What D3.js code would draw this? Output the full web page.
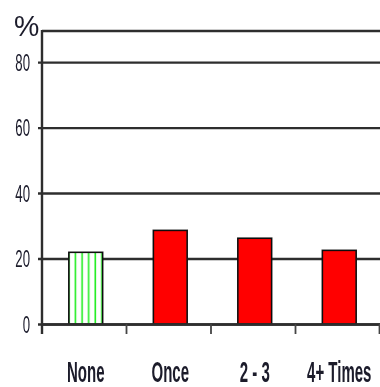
<!DOCTYPE html>
<html>
<head>
<meta charset="utf-8">
<script src="https://cdn.jsdelivr.net/npm/d3@7"></script>
<style>
  html, body { margin: 0; padding: 0; background: #fff; }
  svg { display: block; }
  text { font-family: "Liberation Sans", Arial, sans-serif; fill: #1a1a2a; }
</style>
</head>
<body>
<svg id="chart" width="380" height="387"></svg>
<script>
// Share of respondents (%) by frequency
const categories = ["None", "Once", "2 - 3", "4+ Times"];
const values = [21.9, 28.6, 26.2, 22.5];
const yTicks = [0, 20, 40, 60, 80];
const yMax = 89.5;
const unitLabel = "%";

const W = 380, H = 387;
const plot = { left: 42, right: 380, top: 31, bottom: 324 };

const svg = d3.select("#chart");

const defs = svg.append("defs");
defs.append("filter").attr("id", "soft")
  .attr("x", "-5%").attr("y", "-5%").attr("width", "110%").attr("height", "110%")
  .append("feGaussianBlur").attr("stdDeviation", 0.45);
defs.append("filter").attr("id", "softText")
  .append("feGaussianBlur").attr("stdDeviation", 0.35);
// vertical green stripes for the baseline group
const pat = defs.append("pattern").attr("id", "stripes")
  .attr("patternUnits", "userSpaceOnUse")
  .attr("width", 6.6).attr("height", 10)
  .attr("x", 70.5);
pat.append("rect").attr("width", 6.6).attr("height", 10).attr("fill", "#ffffff");
pat.append("rect").attr("x", 4.2).attr("width", 1.6).attr("height", 10).attr("fill", "#22ee22");

const x = d3.scaleBand().domain(categories).range([plot.left, plot.right]);
const y = d3.scaleLinear().domain([0, yMax]).range([plot.bottom, plot.top]);

const g = svg.append("g").attr("filter", "url(#soft)");

// horizontal grid lines with short ticks left of the axis
const yAxis = d3.axisLeft(y).tickValues(yTicks)
  .tickSize(-(plot.right - plot.left)).tickSizeOuter(0).tickFormat("");
const ya = g.append("g").attr("transform", `translate(${plot.left},0)`).call(yAxis);
ya.select(".domain").remove();
ya.selectAll(".tick line").attr("stroke", "#2e2e2e").attr("stroke-width", 2.4)
  .attr("x1", -4);

// top frame line
g.append("line")
  .attr("x1", plot.left).attr("x2", plot.right)
  .attr("y1", y(yMax)).attr("y2", y(yMax))
  .attr("stroke", "#2e2e2e").attr("stroke-width", 2.4);

// bars
const barW = x.bandwidth() * 0.4;
g.selectAll("rect.bar").data(categories).enter().append("rect")
  .attr("class", "bar")
  .attr("x", (d) => x(d) + (x.bandwidth() - barW) / 2 + 1.5)
  .attr("y", (d, i) => y(values[i]))
  .attr("width", barW)
  .attr("height", (d, i) => y(0) - y(values[i]))
  .attr("fill", (d, i) => i === 0 ? "url(#stripes)" : "#ff0000")
  .attr("stroke", "#111")
  .attr("stroke-width", 1.6);

// vertical axis line
g.append("line")
  .attr("x1", plot.left).attr("x2", plot.left)
  .attr("y1", y(yMax) - 1).attr("y2", plot.bottom + 10)
  .attr("stroke", "#2e2e2e").attr("stroke-width", 2.4);

// category axis: baseline and separators between groups
const xAxis = d3.axisBottom(x).tickSize(0).tickFormat("");
const xa = g.append("g").attr("transform", `translate(0,${plot.bottom})`).call(xAxis);
xa.select(".domain").attr("stroke", "#2e2e2e").attr("stroke-width", 2.4);
xa.selectAll(".tick").remove();
const seps = categories.map((c) => x(c)).slice(1).concat([plot.right - 0.5]);
xa.selectAll("line.sep").data(seps).enter().append("line")
  .attr("class", "sep")
  .attr("x1", (d) => d).attr("x2", (d) => d)
  .attr("y1", 0).attr("y2", 10)
  .attr("stroke", "#444").attr("stroke-width", 1.8);

const tg = svg.append("g").attr("filter", "url(#softText)");

// y tick labels (condensed)
tg.selectAll("text.ylab").data(yTicks).enter().append("text")
  .attr("class", "ylab")
  .attr("transform", (d) => `translate(30,${y(d) + 8.5}) scale(0.55,1)`)
  .attr("text-anchor", "end")
  .attr("font-size", 24)
  .text((d) => d);

tg.append("text")
  .attr("transform", `translate(14,36) scale(0.95,1)`)
  .attr("font-size", 30)
  .text(unitLabel);

// category labels (condensed)
tg.selectAll("text.xlab").data(categories).enter().append("text")
  .attr("class", "xlab")
  .attr("transform", (d) => `translate(${x(d) + x.bandwidth() / 2 + 1.5},382) scale(0.5,1)`)
  .attr("text-anchor", "middle")
  .attr("font-size", 30)
  .attr("font-weight", "bold")
  .text((d) => d);
</script>
</body>
</html>
